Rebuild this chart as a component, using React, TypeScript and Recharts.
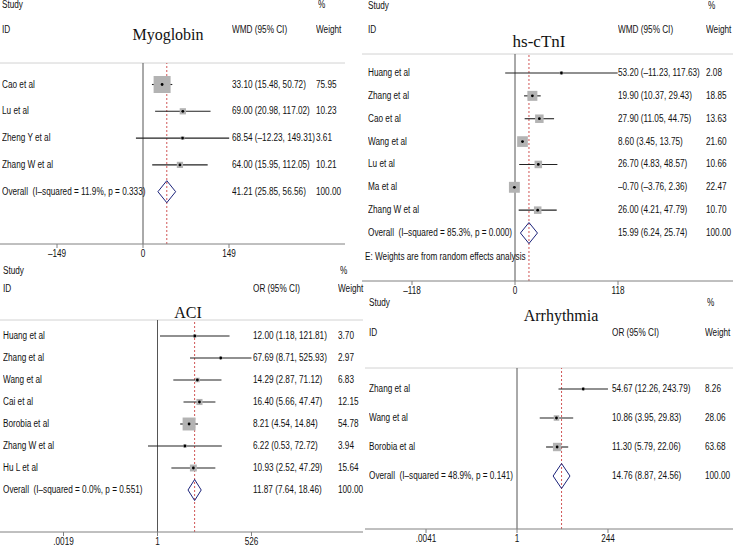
import React from 'react';
import { ErrorBar, ReferenceLine, Scatter, ScatterChart, XAxis, YAxis } from 'recharts';

// Myoglobin (WMD)
const myoStudies = ['Cao et al', 'Lu et al', 'Zheng Y et al', 'Zhang W et al'];
const myoEst = [33.1, 69.0, 68.54, 64.0];
const myoLow = [15.48, 20.98, -12.23, 15.95];
const myoHigh = [50.72, 117.02, 149.31, 112.05];
const myoWeight = [75.95, 10.23, 3.61, 10.21];
const myoOverall = [41.21, 25.85, 56.56];
const myoHet = 'I–squared = 11.9%, p = 0.333';
const myoTicks = [-149, 0, 149];
const myoTickLabels = ['–149', '0', '149'];

// hs-cTnI (WMD)
const hsStudies = ['Huang et al', 'Zhang et al', 'Cao et al', 'Wang et al', 'Lu et al', 'Ma et al', 'Zhang W et al'];
const hsEst = [53.2, 19.9, 27.9, 8.6, 26.7, -0.7, 26.0];
const hsLow = [-11.23, 10.37, 11.05, 3.45, 4.83, -3.76, 4.21];
const hsHigh = [117.63, 29.43, 44.75, 13.75, 48.57, 2.36, 47.79];
const hsWeight = [2.08, 18.85, 13.63, 21.6, 10.66, 22.47, 10.7];
const hsOverall = [15.99, 6.24, 25.74];
const hsHet = 'I–squared = 85.3%, p = 0.000';
const hsTicks = [-118, 0, 118];
const hsTickLabels = ['–118', '0', '118'];

// ACI (OR)
const aciStudies = ['Huang et al', 'Zhang et al', 'Wang et al', 'Cai et al', 'Borobia et al', 'Zhang W et al', 'Hu L et al'];
const aciEst = [12.0, 67.69, 14.29, 16.4, 8.21, 6.22, 10.93];
const aciLow = [1.18, 8.71, 2.87, 5.66, 4.54, 0.53, 2.52];
const aciHigh = [121.81, 525.93, 71.12, 47.47, 14.84, 72.72, 47.29];
const aciWeight = [3.7, 2.97, 6.83, 12.15, 54.78, 3.94, 15.64];
const aciOverall = [11.87, 7.64, 18.46];
const aciHet = 'I–squared = 0.0%, p = 0.551';
const aciTicks = [0.0019, 1, 526];
const aciTickLabels = ['.0019', '1', '526'];

// Arrhythmia (OR)
const arrStudies = ['Zhang et al', 'Wang et al', 'Borobia et al'];
const arrEst = [54.67, 10.86, 11.3];
const arrLow = [12.26, 3.95, 5.79];
const arrHigh = [243.79, 29.83, 22.06];
const arrWeight = [8.26, 28.06, 63.68];
const arrOverall = [14.76, 8.87, 24.56];
const arrHet = 'I–squared = 48.9%, p = 0.141';
const arrTicks = [0.0041, 1, 244];
const arrTickLabels = ['.0041', '1', '244'];

const SANS = "'Liberation Sans', Arial, sans-serif";
const SERIF = "'Liberation Serif', 'Times New Roman', serif";
const SQUEEZE = 0.82; // stand-in for a narrow sans face

const fmt = (v: number) => (v < 0 ? '–' : '') + Math.abs(v).toFixed(2);

function Txt({ x, y, children, size = 10, family = SANS, center = false }: any) {
  return (
    <div
      style={{
        position: 'absolute',
        left: x,
        top: y - size / 2,
        fontSize: size,
        lineHeight: `${size}px`,
        fontFamily: family,
        whiteSpace: 'nowrap',
        color: '#111',
        transformOrigin: 'left center',
        transform: center ? 'translateX(-50%)' : `scaleX(${SQUEEZE})`,
      }}
    >
      {children}
    </div>
  );
}

function ForestPanel({ p }: any) {
  const L = p.layout;
  const t = (v: number) => (p.log ? Math.log(v) : v);
  const xDomain = [(L.plotLeft - L.zeroX) / L.ppu, (L.plotRight - L.zeroX) / L.ppu];
  const d0 = 1 - (L.firstRowY - L.ruleY) / L.rowH;
  const d1 = d0 + (L.axisY - L.ruleY) / L.rowH;
  const rowY = (r: number) => L.firstRowY + (r - 1) * L.rowH;

  const rows = p.studies.map((s: string, i: number) => ({
    x: t(p.est[i]),
    y: i + 1,
    err: [t(p.est[i]) - t(p.low[i]), t(p.high[i]) - t(p.est[i])],
    w: p.weight[i],
  }));
  const n = p.studies.length + 1;
  const [oe, ol, oh] = p.overall;
  const dh = L.diamondPx / L.rowH;
  const diamond = [
    { x: t(ol), y: n },
    { x: t(oe), y: n - dh },
    { x: t(oh), y: n },
    { x: t(oe), y: n + dh },
    { x: t(ol), y: n },
  ];
  const tickVals = p.ticks.map(t);
  const topPad = 3;

  const box = (props: any) => {
    const s = L.boxK * Math.sqrt(props.payload.w);
    return <rect x={props.cx - s / 2} y={props.cy - s / 2} width={s} height={s} fill="#b3b3b3" />;
  };
  const dot = (props: any) => <circle cx={props.cx} cy={props.cy} r={1.4} fill="#000" />;
  const tick = (props: any) => {
    const idx = tickVals.findIndex((tv: number) => Math.abs(tv - props.payload.value) < 1e-6);
    return (
      <text
        transform={`translate(${props.x},${props.y}) scale(${SQUEEZE},1)`}
        textAnchor="middle"
        dy="0.71em"
        fontSize={10}
        fontFamily={SANS}
        fill="#111"
      >
        {p.tickLabels[idx]}
      </text>
    );
  };

  return (
    <>
      <div style={{ position: 'absolute', left: L.plotLeft, top: L.ruleY - topPad }}>
        <ScatterChart
          width={L.plotRight - L.plotLeft}
          height={topPad + L.axisY - L.ruleY + L.axisH}
          margin={{ top: topPad, right: 0, bottom: 0, left: 0 }}
        >
          <XAxis
            type="number"
            dataKey="x"
            domain={xDomain}
            allowDataOverflow
            ticks={tickVals}
            interval={0}
            tickSize={4}
            stroke="#808080"
            tick={tick}
            height={L.axisH}
          />
          <YAxis type="number" dataKey="y" domain={[d0, d1]} reversed hide allowDataOverflow />
          <ReferenceLine y={d0} stroke="#d2d2d2" strokeWidth={1} />
          <ReferenceLine x={0} stroke="#555" strokeWidth={1} />
          <ReferenceLine x={t(oe)} stroke="#d05555" strokeWidth={1} strokeDasharray="2 2" />
          <Scatter data={rows} shape={box} isAnimationActive={false} />
          <Scatter data={rows} shape={dot} isAnimationActive={false}>
            <ErrorBar dataKey="err" direction="x" width={0} stroke="#222" strokeWidth={1.1} />
          </Scatter>
          <Scatter
            data={diamond}
            line={{ stroke: '#1c237a', strokeWidth: 1 }}
            lineJointType="linear"
            shape={() => <g />}
            isAnimationActive={false}
          />
        </ScatterChart>
      </div>

      <Txt x={L.labelX} y={L.studyY}>Study</Txt>
      <Txt x={L.wtX + 2} y={L.studyY}>%</Txt>
      <Txt x={L.labelX} y={L.idY}>ID</Txt>
      <Txt x={L.estX} y={L.idY}>{p.measure} (95% CI)</Txt>
      <Txt x={L.wtX} y={L.idY}>Weight</Txt>
      <Txt x={L.titleX} y={L.titleY} size={L.titleSize} family={SERIF} center>
        {p.title}
      </Txt>

      {p.studies.map((s: string, i: number) => (
        <React.Fragment key={s + i}>
          <Txt x={L.labelX} y={rowY(i + 1)}>{s}</Txt>
          <Txt x={L.estX} y={rowY(i + 1)}>
            {fmt(p.est[i])} ({fmt(p.low[i])}, {fmt(p.high[i])})
          </Txt>
          <Txt x={L.wtX} y={rowY(i + 1)}>{p.weight[i].toFixed(2)}</Txt>
        </React.Fragment>
      ))}
      <Txt x={L.labelX} y={rowY(n)}>Overall&nbsp; ({p.het})</Txt>
      <Txt x={L.estX} y={rowY(n)}>
        {fmt(oe)} ({fmt(ol)}, {fmt(oh)})
      </Txt>
      <Txt x={L.wtX} y={rowY(n)}>100.00</Txt>
      {p.note && (
        <Txt x={L.noteX} y={L.noteY}>{p.note}</Txt>
      )}
    </>
  );
}

const panels = [
  {
    title: 'Myoglobin', measure: 'WMD', log: false,
    studies: myoStudies, est: myoEst, low: myoLow, high: myoHigh, weight: myoWeight,
    overall: myoOverall, het: myoHet, ticks: myoTicks, tickLabels: myoTickLabels,
    layout: {
      plotLeft: 0, plotRight: 345, ruleY: 63, axisY: 244, axisH: 20, zeroX: 143, ppu: 86 / 149,
      firstRowY: 84.5, rowH: 26.8, diamondPx: 11, boxK: 1.95,
      labelX: 2, estX: 232, wtX: 316, studyY: 5, idY: 30, titleX: 168, titleY: 35, titleSize: 16,
    },
  },
  {
    title: 'hs-cTnI', measure: 'WMD', log: false,
    studies: hsStudies, est: hsEst, low: hsLow, high: hsHigh, weight: hsWeight,
    overall: hsOverall, het: hsHet, ticks: hsTicks, tickLabels: hsTickLabels,
    note: 'E: Weights are from random effects analysis',
    layout: {
      plotLeft: 362, plotRight: 733, ruleY: 54, axisY: 281, axisH: 18, zeroX: 515, ppu: 103 / 118,
      firstRowY: 73, rowH: 22.86, diamondPx: 10.5, boxK: 2.3,
      labelX: 368, estX: 618, wtX: 706, studyY: 6, idY: 30, titleX: 539, titleY: 41, titleSize: 17,
      noteX: 365, noteY: 257,
    },
  },
  {
    title: 'ACI', measure: 'OR', log: true,
    studies: aciStudies, est: aciEst, low: aciLow, high: aciHigh, weight: aciWeight,
    overall: aciOverall, het: aciHet, ticks: aciTicks, tickLabels: aciTickLabels,
    layout: {
      plotLeft: 0, plotRight: 363, ruleY: 320, axisY: 532, axisH: 18, zeroX: 157.5, ppu: 15.0,
      firstRowY: 336, rowH: 22, diamondPx: 10.5, boxK: 1.75,
      labelX: 3, estX: 253, wtX: 338, studyY: 271, idY: 289, titleX: 188, titleY: 313, titleSize: 16,
    },
  },
  {
    title: 'Arrhythmia', measure: 'OR', log: true,
    studies: arrStudies, est: arrEst, low: arrLow, high: arrHigh, weight: arrWeight,
    overall: arrOverall, het: arrHet, ticks: arrTicks, tickLabels: arrTickLabels,
    layout: {
      plotLeft: 365, plotRight: 733, ruleY: 368, axisY: 529, axisH: 21, zeroX: 517, ppu: 16.55,
      firstRowY: 389, rowH: 29, diamondPx: 12.5, boxK: 1.05,
      labelX: 369, estX: 612, wtX: 705, studyY: 303, idY: 333, titleX: 561, titleY: 316, titleSize: 16,
    },
  },
];

export default function App() {
  return (
    <div style={{ position: 'absolute', left: 0, top: 0, width: 733, height: 550, background: '#fff', overflow: 'hidden' }}>
      {panels.map((p) => (
        <ForestPanel key={p.title} p={p} />
      ))}
    </div>
  );
}
